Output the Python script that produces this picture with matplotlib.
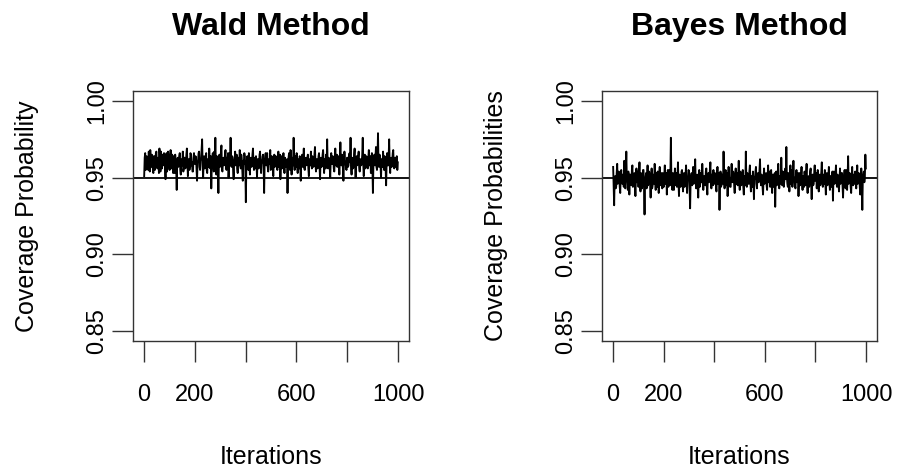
import matplotlib
matplotlib.use("Agg")
import matplotlib.pyplot as plt

plt.rcParams['font.family'] = ['Liberation Sans', 'DejaVu Sans']

iterations = list(range(1, 1000, 2))

wald = [
    0.951, 0.963, 0.966, 0.955, 0.958, 0.964, 0.963, 0.957, 0.955, 0.967,
    0.961, 0.954, 0.968, 0.960, 0.957, 0.965, 0.962, 0.956, 0.953, 0.964,
    0.964, 0.955, 0.959, 0.966, 0.967, 0.958, 0.956, 0.963, 0.961, 0.953,
    0.969, 0.960, 0.954, 0.967, 0.960, 0.956, 0.965, 0.959, 0.958, 0.966,
    0.962, 0.957, 0.949, 0.964, 0.966, 0.954, 0.959, 0.967, 0.963, 0.958,
    0.955, 0.962, 0.968, 0.956, 0.961, 0.965, 0.957, 0.953, 0.964, 0.960,
    0.953, 0.965, 0.960, 0.956, 0.942, 0.961, 0.963, 0.957, 0.958, 0.964,
    0.966, 0.955, 0.952, 0.962, 0.961, 0.958, 0.967, 0.954, 0.956, 0.963,
    0.963, 0.956, 0.958, 0.965, 0.969, 0.959, 0.951, 0.962, 0.962, 0.955,
    0.957, 0.966, 0.965, 0.958, 0.960, 0.954, 0.954, 0.963, 0.966, 0.959,
    0.959, 0.964, 0.963, 0.956, 0.948, 0.960, 0.961, 0.966, 0.967, 0.957,
    0.955, 0.962, 0.962, 0.968, 0.975, 0.958, 0.950, 0.961, 0.964, 0.956,
    0.958, 0.963, 0.966, 0.955, 0.953, 0.962, 0.961, 0.957, 0.969, 0.960,
    0.956, 0.964, 0.943, 0.958, 0.963, 0.966, 0.959, 0.954, 0.967, 0.961,
    0.976, 0.959, 0.952, 0.964, 0.962, 0.956, 0.940, 0.960, 0.965, 0.957,
    0.958, 0.967, 0.971, 0.955, 0.954, 0.962, 0.963, 0.958, 0.960, 0.965,
    0.968, 0.957, 0.955, 0.963, 0.961, 0.966, 0.950, 0.959, 0.966, 0.961,
    0.976, 0.958, 0.957, 0.964, 0.963, 0.955, 0.949, 0.960, 0.962, 0.967,
    0.958, 0.962, 0.965, 0.956, 0.953, 0.963, 0.961, 0.958, 0.968, 0.960,
    0.956, 0.965, 0.962, 0.955, 0.948, 0.961, 0.959, 0.966, 0.964, 0.957,
    0.934, 0.958, 0.961, 0.964, 0.957, 0.955, 0.966, 0.960, 0.952, 0.962,
    0.963, 0.957, 0.958, 0.965, 0.969, 0.959, 0.955, 0.963, 0.961, 0.956,
    0.964, 0.959, 0.950, 0.962, 0.962, 0.956, 0.957, 0.965, 0.967, 0.958,
    0.953, 0.961, 0.960, 0.964, 0.965, 0.957, 0.940, 0.960, 0.962, 0.966,
    0.958, 0.963, 0.966, 0.957, 0.954, 0.962, 0.961, 0.959, 0.968, 0.955,
    0.956, 0.964, 0.963, 0.958, 0.951, 0.961, 0.965, 0.957, 0.959, 0.964,
    0.962, 0.958, 0.955, 0.963, 0.967, 0.957, 0.960, 0.965, 0.949, 0.960,
    0.964, 0.956, 0.958, 0.962, 0.966, 0.959, 0.953, 0.963, 0.961, 0.957,
    0.957, 0.962, 0.940, 0.959, 0.963, 0.966, 0.959, 0.955, 0.968, 0.961,
    0.952, 0.963, 0.962, 0.958, 0.976, 0.960, 0.955, 0.964, 0.961, 0.957,
    0.966, 0.958, 0.953, 0.962, 0.960, 0.956, 0.964, 0.959, 0.948, 0.961,
    0.962, 0.965, 0.957, 0.960, 0.969, 0.956, 0.955, 0.962, 0.963, 0.958,
    0.959, 0.963, 0.965, 0.956, 0.951, 0.962, 0.961, 0.958, 0.967, 0.960,
    0.956, 0.964, 0.963, 0.957, 0.958, 0.965, 0.970, 0.959, 0.954, 0.962,
    0.962, 0.956, 0.957, 0.964, 0.966, 0.958, 0.949, 0.961, 0.963, 0.957,
    0.959, 0.965, 0.968, 0.960, 0.953, 0.962, 0.961, 0.956, 0.965, 0.959,
    0.975, 0.958, 0.956, 0.963, 0.962, 0.957, 0.950, 0.961, 0.966, 0.959,
    0.959, 0.964, 0.963, 0.956, 0.954, 0.962, 0.969, 0.958, 0.960, 0.965,
    0.957, 0.962, 0.964, 0.958, 0.952, 0.961, 0.973, 0.959, 0.958, 0.965,
    0.962, 0.956, 0.948, 0.960, 0.967, 0.961, 0.960, 0.957, 0.955, 0.963,
    0.963, 0.957, 0.958, 0.964, 0.966, 0.960, 0.976, 0.958, 0.952, 0.963,
    0.962, 0.956, 0.957, 0.965, 0.969, 0.959, 0.950, 0.962, 0.964, 0.958,
    0.959, 0.964, 0.967, 0.957, 0.954, 0.962, 0.962, 0.958, 0.960, 0.965,
    0.976, 0.959, 0.951, 0.961, 0.965, 0.956, 0.958, 0.964, 0.963, 0.957,
    0.956, 0.963, 0.968, 0.958, 0.960, 0.964, 0.953, 0.961, 0.966, 0.957,
    0.940, 0.959, 0.962, 0.965, 0.958, 0.963, 0.970, 0.957, 0.955, 0.962,
    0.979, 0.960, 0.957, 0.965, 0.964, 0.958, 0.950, 0.962, 0.962, 0.957,
    0.967, 0.960, 0.955, 0.964, 0.961, 0.956, 0.945, 0.960, 0.966, 0.958,
    0.958, 0.964, 0.975, 0.959, 0.953, 0.962, 0.963, 0.957, 0.960, 0.966,
    0.968, 0.958, 0.956, 0.963, 0.962, 0.957, 0.958, 0.964, 0.955, 0.960,
]

bayes = [
    0.957, 0.945, 0.932, 0.950, 0.951, 0.943, 0.944, 0.953, 0.959, 0.946,
    0.947, 0.954, 0.953, 0.944, 0.940, 0.951, 0.955, 0.948, 0.946, 0.952,
    0.950, 0.944, 0.961, 0.947, 0.943, 0.953, 0.967, 0.949, 0.948, 0.942,
    0.954, 0.950, 0.939, 0.952, 0.952, 0.946, 0.945, 0.955, 0.958, 0.944,
    0.947, 0.952, 0.953, 0.945, 0.938, 0.950, 0.956, 0.947, 0.949, 0.954,
    0.944, 0.951, 0.960, 0.946, 0.941, 0.953, 0.951, 0.943, 0.946, 0.955,
    0.955, 0.944, 0.926, 0.948, 0.950, 0.953, 0.943, 0.951, 0.958, 0.945,
    0.947, 0.954, 0.952, 0.946, 0.937, 0.949, 0.956, 0.943, 0.945, 0.952,
    0.951, 0.946, 0.959, 0.949, 0.942, 0.953, 0.948, 0.944, 0.954, 0.950,
    0.940, 0.952, 0.957, 0.945, 0.946, 0.953, 0.950, 0.943, 0.953, 0.948,
    0.944, 0.951, 0.958, 0.946, 0.948, 0.953, 0.939, 0.950, 0.955, 0.944,
    0.950, 0.955, 0.945, 0.952, 0.976, 0.949, 0.947, 0.942, 0.953, 0.948,
    0.942, 0.950, 0.956, 0.945, 0.949, 0.953, 0.944, 0.951, 0.960, 0.947,
    0.938, 0.952, 0.951, 0.944, 0.947, 0.954, 0.955, 0.946, 0.941, 0.950,
    0.953, 0.944, 0.946, 0.952, 0.958, 0.947, 0.940, 0.950, 0.949, 0.955,
    0.954, 0.943, 0.930, 0.948, 0.951, 0.953, 0.945, 0.950, 0.957, 0.946,
    0.948, 0.953, 0.962, 0.947, 0.943, 0.951, 0.952, 0.945, 0.937, 0.949,
    0.955, 0.944, 0.946, 0.953, 0.950, 0.947, 0.959, 0.951, 0.942, 0.948,
    0.951, 0.946, 0.945, 0.954, 0.956, 0.944, 0.939, 0.950, 0.953, 0.947,
    0.948, 0.955, 0.960, 0.946, 0.943, 0.952, 0.950, 0.945, 0.955, 0.949,
    0.946, 0.953, 0.952, 0.944, 0.941, 0.950, 0.957, 0.946, 0.949, 0.953,
    0.929, 0.947, 0.954, 0.944, 0.945, 0.952, 0.951, 0.946, 0.967, 0.950,
    0.943, 0.951, 0.955, 0.945, 0.948, 0.953, 0.938, 0.949, 0.957, 0.946,
    0.950, 0.944, 0.944, 0.952, 0.959, 0.948, 0.947, 0.954, 0.952, 0.945,
    0.940, 0.950, 0.956, 0.946, 0.949, 0.953, 0.945, 0.951, 0.961, 0.947,
    0.942, 0.954, 0.953, 0.945, 0.947, 0.952, 0.955, 0.944, 0.939, 0.950,
    0.951, 0.945, 0.967, 0.949, 0.944, 0.953, 0.952, 0.946, 0.946, 0.954,
    0.958, 0.947, 0.941, 0.951, 0.950, 0.944, 0.954, 0.948, 0.936, 0.950,
    0.949, 0.954, 0.957, 0.946, 0.943, 0.951, 0.953, 0.947, 0.948, 0.955,
    0.962, 0.948, 0.945, 0.952, 0.951, 0.944, 0.939, 0.950, 0.956, 0.946,
    0.947, 0.952, 0.953, 0.945, 0.942, 0.950, 0.958, 0.947, 0.950, 0.954,
    0.944, 0.951, 0.955, 0.946, 0.940, 0.952, 0.951, 0.944, 0.946, 0.953,
    0.931, 0.948, 0.954, 0.945, 0.947, 0.953, 0.959, 0.949, 0.943, 0.951,
    0.951, 0.946, 0.963, 0.950, 0.945, 0.954, 0.952, 0.944, 0.948, 0.953,
    0.956, 0.949, 0.970, 0.951, 0.946, 0.944, 0.953, 0.947, 0.941, 0.950,
    0.958, 0.946, 0.949, 0.955, 0.944, 0.951, 0.961, 0.948, 0.950, 0.945,
    0.943, 0.951, 0.955, 0.947, 0.948, 0.953, 0.938, 0.950, 0.953, 0.945,
    0.946, 0.952, 0.957, 0.947, 0.942, 0.951, 0.950, 0.944, 0.954, 0.948,
    0.945, 0.953, 0.959, 0.946, 0.940, 0.950, 0.951, 0.944, 0.947, 0.954,
    0.956, 0.946, 0.936, 0.949, 0.952, 0.945, 0.946, 0.953, 0.958, 0.948,
    0.949, 0.953, 0.943, 0.950, 0.955, 0.946, 0.941, 0.951, 0.952, 0.945,
    0.947, 0.954, 0.960, 0.948, 0.944, 0.952, 0.950, 0.946, 0.955, 0.947,
    0.939, 0.950, 0.953, 0.945, 0.946, 0.952, 0.957, 0.947, 0.942, 0.951,
    0.951, 0.944, 0.948, 0.954, 0.935, 0.949, 0.954, 0.946, 0.947, 0.952,
    0.958, 0.947, 0.944, 0.952, 0.950, 0.945, 0.941, 0.950, 0.956, 0.946,
    0.948, 0.953, 0.953, 0.944, 0.937, 0.949, 0.951, 0.955, 0.946, 0.943,
    0.955, 0.948, 0.942, 0.951, 0.964, 0.946, 0.947, 0.953, 0.952, 0.944,
    0.940, 0.950, 0.957, 0.947, 0.945, 0.952, 0.950, 0.946, 0.954, 0.948,
    0.943, 0.951, 0.958, 0.946, 0.948, 0.953, 0.951, 0.944, 0.939, 0.950,
    0.956, 0.947, 0.929, 0.949, 0.952, 0.954, 0.947, 0.950, 0.965, 0.956,
]

reference_level = 0.95
x_ticks = [0, 200, 400, 600, 800, 1000]
x_tick_labels = ["0", "200", "", "600", "", "1000"]
y_ticks = [0.85, 0.90, 0.95, 1.00]
y_tick_labels = ["0.85", "0.90", "0.95", "1.00"]

panels = [
    ("Wald Method", "Coverage Probability", wald),
    ("Bayes Method", "Coverage Probabilities", bayes),
]

W, H = 909, 469
fig = plt.figure(figsize=(W / 100, H / 100), dpi=100)
axes_px = [(133, 91, 276, 250), (602, 91, 275, 250)]

for (title, ylabel, values), (lx, ty, w, h) in zip(panels, axes_px):
    ax = fig.add_axes([lx / W, (H - ty - h) / H, w / W, h / H])
    ax.plot(iterations, values, color="black", linewidth=1.35)
    ax.axhline(reference_level, color="black", linewidth=1.3)
    ax.set_xlim(-43, 1043)
    ax.set_ylim(0.8435, 1.0065)
    ax.set_xticks(x_ticks)
    ax.set_xticklabels(x_tick_labels)
    ax.set_yticks(y_ticks)
    ax.set_yticklabels(y_tick_labels, rotation=90, va="center")
    ax.tick_params(direction="out", length=15, width=1, colors="#333333",
                   labelcolor="black", labelsize=17)
    ax.tick_params(axis="x", pad=16)
    ax.tick_params(axis="y", pad=3)
    for s in ax.spines.values():
        s.set_color("#333333")
        s.set_linewidth(1)
    ax.set_title(title, fontsize=23, fontweight="bold", pad=40)
    ax.set_xlabel("Iterations", fontsize=18, labelpad=28)
    ax.set_ylabel(ylabel, fontsize=18, labelpad=34)

fig.savefig("out.png", dpi=100)
